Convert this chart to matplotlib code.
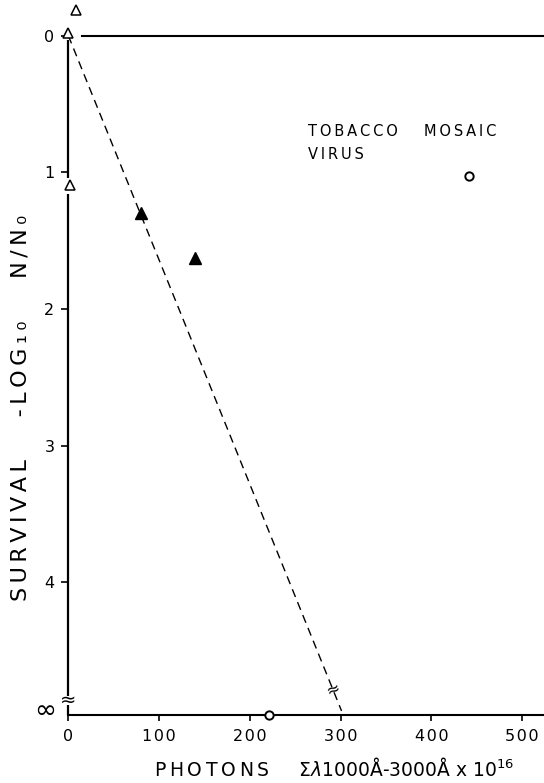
import numpy as np
import matplotlib.pyplot as plt

# Survival of tobacco mosaic virus vs photon dose

INF = 4.97  # where the "infinity" row sits on the survival axis

open_tri_x = [0, 9, 2]
open_tri_y = [-0.02, -0.19, 1.09]

filled_tri_x = [80, 139]
filled_tri_y = [1.30, 1.63]

circle_x = [441, 221]
circle_y = [1.03, INF]

fit_x = [0, 301]
fit_y = [0, 4.94]

xticks = [0, 100, 200, 300, 400, 500]
yticks = [0, 1, 2, 3, 4]


def spaced(s, sep='\u2009'):
    # old typewriter-style lettering: a thin space between every letter
    return sep.join(s)


fig = plt.figure(figsize=(5.44, 7.83), dpi=100)
ax = fig.add_axes([0.1256, 0.0868, 0.8744, 0.8677])
ax.set_xlim(0, 524)
ax.set_ylim(INF, 0)

# dashed fit line and points
ax.plot(fit_x, fit_y, color='k', lw=1.0, linestyle=(0, (6, 4)), clip_on=False)
ax.plot(open_tri_x, open_tri_y, linestyle='none', marker='^', ms=7,
        mfc='white', mec='k', mew=1.1, clip_on=False, zorder=5)
ax.plot(filled_tri_x, filled_tri_y, linestyle='none', marker='^', ms=8,
        color='k', clip_on=False, zorder=5)
ax.plot(circle_x, circle_y, linestyle='none', marker='o', ms=6,
        mfc='white', mec='k', mew=1.4, clip_on=False, zorder=5)

# spines
ax.spines['right'].set_visible(False)
ax.spines['left'].set_visible(False)
ax.spines['top'].set_bounds(15, 524)
ax.spines['top'].set_linewidth(1.5)
ax.spines['bottom'].set_linewidth(1.5)
for a, b in [(0.03, 1.04), (1.16, 4.83), (4.90, INF)]:
    ax.plot([0, 0], [a, b], color='k', lw=1.6, solid_capstyle='butt', clip_on=False)

# axis breaks
ax.text(0, 4.865, '≈', ha='center', va='center', fontsize=14)
ax.text(291, 4.78, '≈', ha='center', va='center', fontsize=12, rotation=22)

ax.set_xticks(xticks)
ax.set_yticks(yticks)
ax.set_xticklabels([spaced(str(v), '\u200a') for v in xticks], fontsize=11.5)
ax.set_yticklabels([str(v) for v in yticks], fontsize=11.5)
ax.tick_params(axis='x', direction='out', length=4, width=1.2, pad=6)
ax.tick_params(axis='y', direction='out', length=5, width=1.2, pad=5)
ax.text(-25, INF - 0.03, '∞', ha='center', va='center', fontsize=19)

ax.text(264, 0.70, spaced('TOBACCO'), va='center', fontsize=10.5)
ax.text(392, 0.70, spaced('MOSAIC'), va='center', fontsize=10.5)
ax.text(264, 0.87, spaced('VIRUS'), va='center', fontsize=10.5)

ylab = '      '.join([spaced('SURVIVAL'), spaced('-LOG₁₀'), spaced('N/N₀')])
fig.text(0.037, 0.479, ylab, rotation=90, ha='center', va='center', fontsize=16)
xlab = spaced('PHOTONS') + '     ' + r'$\Sigma\lambda$1000Å-3000Å x 10$^{16}$'
fig.text(0.614, 0.018, xlab, ha='center', va='center', fontsize=13.5)

plt.savefig('out.png', dpi=100)
